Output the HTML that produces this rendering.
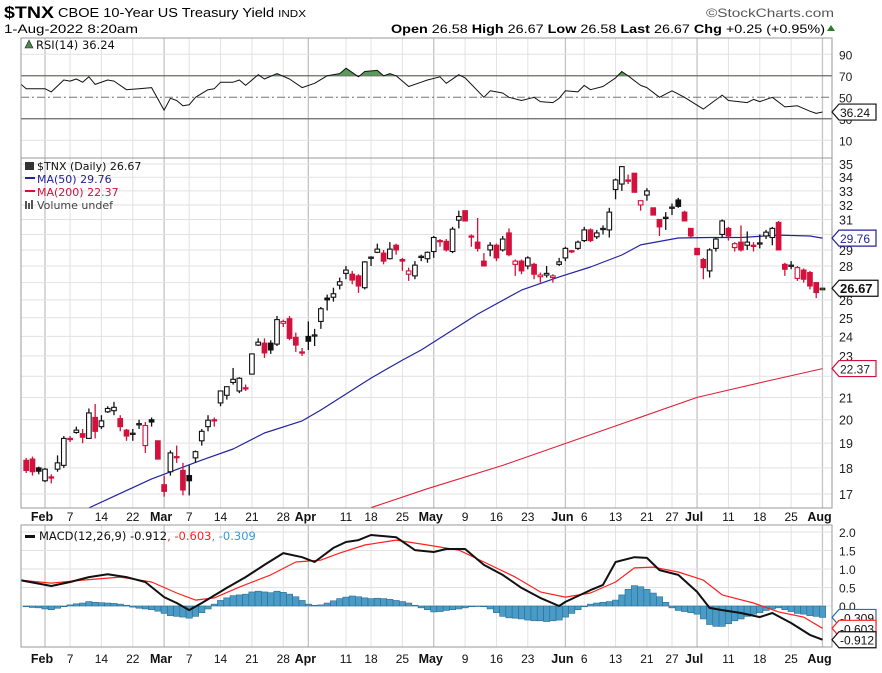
<!DOCTYPE html>
<html><head><meta charset="utf-8">
<style>
html,body{margin:0;padding:0;background:#fff;}
body{width:882px;height:668px;overflow:hidden;font-family:"Liberation Sans",sans-serif;}
svg text{font-family:"Liberation Sans",sans-serif;}
</style></head>
<body>
<svg id="chart" width="882" height="668" viewBox="0 0 882 668" xmlns="http://www.w3.org/2000/svg">
  <g id="header">
    <text x="4" y="18" font-size="17" font-weight="bold" textLength="50" lengthAdjust="spacingAndGlyphs">$TNX</text>
    <text x="58" y="17" font-size="12.5" textLength="248" lengthAdjust="spacingAndGlyphs">CBOE 10-Year US Treasury Yield <tspan font-size="10">INDX</tspan></text>
    <text x="4" y="33" font-size="12" textLength="134" lengthAdjust="spacingAndGlyphs">1-Aug-2022 8:20am</text>
    <text x="834" y="17" font-size="12" fill="#555" text-anchor="end" textLength="128" lengthAdjust="spacingAndGlyphs">©StockCharts.com</text>
    <text x="391" y="33" font-size="12" textLength="434" lengthAdjust="spacingAndGlyphs"><tspan font-weight="bold">Open</tspan> 26.58 <tspan font-weight="bold">High</tspan> 26.67 <tspan font-weight="bold">Low</tspan> 26.58 <tspan font-weight="bold">Last</tspan> 26.67 <tspan font-weight="bold">Chg</tspan> +0.25 (+0.95%)</text>
    <polygon points="827,31 835,31 831,25" fill="#2a7d2a"/>
  </g>
  <g id="rsi"></g>
  <g id="main"></g>
  <g id="xaxis1"></g>
  <g id="macd"></g>
  <g id="xaxis2"></g>
</svg>
<script>
// ---------- DATA ----------
const firstDay = -3; // trading-day index of first candle (0 = 1-Feb-2022)
const opens = [18.30,18.35,18.0,17.5,17.65,17.95,18.1,19.2,19.45,19.4,19.2,20.1,19.7,20.35,20.4,20.05,19.55,19.4,19.8,18.9,20.0,19.1,17.35,17.85,18.45,17.9,17.7,18.4,19.1,19.7,20.0,20.75,21.1,21.7,21.3,21.45,22.1,23.55,23.65,23.65,23.6,24.7,24.95,23.95,23.2,24.0,24.05,24.8,26.1,26.15,26.85,27.55,27.5,27.4,26.7,28.5,28.85,28.8,28.45,29.3,28.4,27.5,27.4,28.55,28.45,28.9,29.6,29.55,28.9,30.95,31.6,29.9,29.5,28.3,29.0,29.3,29.0,30.1,28.1,28.3,28.0,28.1,27.35,27.45,27.3,28.1,28.5,28.95,29.1,29.6,30.3,29.85,30.35,30.3,33.1,33.5,33.8,34.3,32.0,32.7,31.8,31.0,31.1,31.8,32.35,31.5,30.4,29.1,28.4,27.7,29.1,30.0,30.4,29.15,29.5,29.3,29.3,29.4,29.9,29.8,30.8,28.1,28.0,27.25,27.75,27.6,27.0,26.58];
const highs = [18.4,18.45,18.05,18.0,17.75,18.5,19.3,19.3,19.7,19.6,20.5,20.7,20.2,20.6,20.8,20.2,19.6,19.6,20.0,19.9,20.1,19.1,17.7,18.7,18.9,18.2,18.1,18.7,19.6,20.2,20.1,21.3,21.5,22.4,21.95,21.6,23.1,23.9,23.9,23.8,25.1,24.9,25.1,24.2,23.4,24.8,24.4,25.6,26.3,26.7,27.3,28.0,27.7,27.5,28.3,28.6,29.4,29.0,29.5,29.4,28.5,27.9,28.3,28.7,28.9,29.9,29.7,29.7,30.5,31.6,31.6,30.0,31.1,28.8,29.5,29.4,29.9,30.4,28.4,28.4,28.6,28.2,27.6,28.0,27.5,28.5,29.2,29.0,29.6,30.5,30.4,30.3,30.6,31.8,33.9,34.8,34.2,34.3,32.3,33.2,31.8,31.0,31.5,32.1,32.5,31.6,30.4,29.1,28.5,29.1,29.8,31.0,30.5,29.5,30.6,30.2,29.5,30.0,30.3,30.5,30.9,28.2,28.3,28.0,27.85,27.7,27.0,26.67];
const lows = [17.8,17.7,17.75,17.45,17.4,17.85,18.0,19.05,19.4,19.0,19.2,19.2,19.6,20.3,20.2,19.5,19.1,19.1,19.6,18.6,19.7,18.35,16.9,17.7,18.2,16.95,16.95,18.2,18.9,19.5,19.7,20.6,20.9,21.6,21.2,21.3,22.1,23.5,22.9,23.1,23.5,24.5,23.8,23.2,23.0,23.3,23.5,24.4,25.4,25.9,26.6,27.2,26.9,26.4,26.6,28.0,28.8,28.1,28.4,28.7,27.7,27.1,27.2,28.3,28.2,28.5,29.2,28.9,28.8,30.4,30.9,29.2,28.9,28.0,28.6,28.3,28.9,28.6,27.4,27.5,27.8,27.2,27.0,27.3,27.0,28.0,28.3,28.8,29.0,29.5,29.5,29.7,30.0,29.8,32.4,33.0,33.5,32.9,31.6,32.3,31.3,29.9,30.3,31.3,31.8,30.9,29.8,28.7,27.2,27.3,28.9,29.8,29.6,28.9,28.9,29.0,28.9,29.1,29.7,29.3,29.0,27.4,27.8,27.1,27.0,26.6,26.1,26.58];
const closes = [17.90,17.85,17.87,17.95,17.62,18.2,19.2,19.15,19.55,19.25,20.3,19.5,19.95,20.5,20.55,19.7,19.3,19.42,19.83,19.75,19.9,18.35,17.1,18.6,18.42,17.15,17.5,18.65,19.5,19.98,19.95,21.3,21.5,21.85,21.9,21.4,23.1,23.7,23.15,23.3,24.9,24.8,23.9,23.55,23.18,23.75,24.08,25.5,26.0,26.35,27.05,27.75,27.15,26.8,28.25,28.55,29.05,28.3,29.05,29.0,28.3,27.7,28.05,28.6,28.85,29.8,29.55,29.0,30.35,31.2,30.9,29.85,29.1,28.0,29.3,28.5,29.7,28.7,28.3,27.7,28.5,27.5,27.45,27.55,27.4,28.25,29.1,28.9,29.5,30.3,29.6,30.1,30.4,31.5,33.8,34.8,33.7,32.9,32.3,33.0,31.3,30.5,31.15,31.85,31.9,30.9,29.9,28.7,27.9,29.0,29.7,30.9,29.9,29.4,29.0,29.5,29.28,29.45,30.15,30.4,29.0,27.8,28.05,27.9,27.2,26.8,26.42,26.67];
const ma50Days = [7,17,25,30,35,41,44,52,57,60,69,76,82,87,92,95,101,106,111,117,122,124];
const ma50Vals = [16.49,17.57,18.31,18.76,19.43,19.95,20.43,21.91,22.79,23.3,25.2,26.56,27.34,27.94,28.68,29.32,29.77,29.8,29.8,29.96,29.9,29.76];
const ma200Days = [52,61,73,88,104,115,124];
const ma200Vals = [16.5,17.2,18.1,19.45,21.0,21.75,22.37];
const rsiDays = [-4,-3,0,1,3,4,5,6,7,8,10,11,13,15,17,19,20,21,22,23,24,26,27,28,30,31,32,34,35,37,39,41,43,45,47,48,50,51,53,54,55,56,58,60,61,63,64,66,67,70,71,73,74,76,78,79,81,82,83,85,86,87,89,91,92,93,95,96,98,100,102,105,108,109,112,113,114,116,118,120,122,123,124];
const rsiVals = [63,58,58,55,66,65,67,64,69,62,66,65,57,58,59,38,49,47,42,43,50,57,58,64,64,66,61,71,67,72,67,59,63,70,72,77,69,74,75,70,72,70,60,64,66,69,63,71,68,50,56,54,50,47,50,46,45,49,56,55,61,57,60,68,74,70,61,59,50,56,50,39,52,47,45,48,46,50,41,42,37,35,36.24];
const macdDays = [-4,1,4,7,10,13,16,19,21,23,25,29,32,35,38,41,43,46,48,50,52,56,59,62,64,67,70,73,76,79,82,83,87,89,91,94,96,98,101,104,106,108,111,114,116,119,122,124];
const macdVals = [0.70,0.54,0.65,0.78,0.86,0.78,0.65,0.24,0.08,-0.11,0.08,0.49,0.78,1.11,1.43,1.32,1.19,1.57,1.73,1.78,1.92,1.86,1.51,1.46,1.54,1.54,1.11,0.84,0.49,0.22,0.0,0.11,0.43,0.57,1.19,1.32,1.30,0.97,0.84,0.38,-0.05,-0.11,-0.19,-0.30,-0.19,-0.46,-0.78,-0.912];
const signalDays = [-4,1,6,12,17,21,24,27,31,36,40,44,47,51,56,61,66,70,75,79,83,87,91,94,97,101,105,108,113,117,121,124];
const signalVals = [0.70,0.62,0.70,0.78,0.65,0.35,0.16,0.22,0.51,0.84,1.19,1.24,1.43,1.65,1.78,1.65,1.51,1.19,0.78,0.38,0.24,0.35,0.65,1.03,1.05,0.92,0.70,0.30,0.08,-0.16,-0.30,-0.603];
const histVals = [-0.02,-0.04,-0.05,-0.08,-0.10,-0.06,-0.02,0.03,0.06,0.08,0.12,0.10,0.09,0.08,0.07,0.05,0.02,-0.03,-0.06,-0.08,-0.10,-0.14,-0.20,-0.26,-0.28,-0.30,-0.33,-0.28,-0.18,-0.08,0.05,0.15,0.22,0.28,0.30,0.32,0.38,0.40,0.38,0.36,0.40,0.37,0.32,0.25,0.15,0.05,0.02,0.03,0.08,0.14,0.20,0.24,0.27,0.25,0.22,0.20,0.21,0.20,0.18,0.15,0.12,0.08,0.02,-0.05,-0.10,-0.16,-0.15,-0.12,-0.10,-0.08,-0.05,-0.02,0.00,-0.02,-0.08,-0.18,-0.28,-0.32,-0.33,-0.35,-0.38,-0.40,-0.40,-0.42,-0.40,-0.38,-0.30,-0.20,-0.10,-0.02,0.05,0.08,0.10,0.12,0.16,0.30,0.45,0.55,0.52,0.45,0.35,0.25,0.10,-0.05,-0.12,-0.15,-0.18,-0.22,-0.35,-0.50,-0.55,-0.55,-0.48,-0.40,-0.35,-0.28,-0.22,-0.18,-0.12,-0.08,-0.05,-0.10,-0.15,-0.20,-0.22,-0.26,-0.28,-0.309];
const priceTicks = [17,18,19,20,21,22,23,24,25,26,27,28,29,30,31,32,33,34,35];
const priceTickLabels = ["17","18","19","20","21","","23","24","25","26","","28","29","","31","32","33","34","35"];
const rsiTicks = [10,30,50,70,90];
const macdTicks = [0,0.5,1,1.5,2];
const macdTickLabels = ["0.0","0.5","1.0","1.5","2.0"];
const monthDays = [0,19,42,62,83,104,124];
const monthLabels = ["Feb","Mar","Apr","May","Jun","Jul","Aug"];
const weekDays = [4,9,14,23,28,33,38,48,52,57,67,72,77,86,91,96,100,109,114,119];
const weekLabels = ["7","14","22","7","14","21","28","11","18","25","9","16","23","6","13","21","27","11","18","25"];

// ---------- GEOMETRY ----------
const L = 21, R = 832;
const xD = d => 45 + d * 6.27;
const yP = v => 164 + 457 * Math.log(35 / v);
const yR = v => 151 - 1.075 * v;
const yM = v => 606 - 37 * v;
const NS = 'http://www.w3.org/2000/svg';
function mk(tag, attrs, parent) {
  const e = document.createElementNS(NS, tag);
  for (const k in attrs) e.setAttribute(k, attrs[k]);
  parent.appendChild(e);
  return e;
}
const svg = document.getElementById('chart');
const defs = mk('defs', {}, svg);
function clip(id, y0, y1) {
  const c = mk('clipPath', {id: id}, defs);
  mk('rect', {x: L, y: y0, width: R - L, height: y1 - y0}, c);
}
clip('cr', 38, 158); clip('cm', 158, 508); clip('cd', 525, 647);

function vgrid(g, y0, y1) {
  weekDays.forEach(d => {
    const ln = mk('line', {x1: xD(d), x2: xD(d), y1: y0, y2: y1, stroke: '#e2e2e2', 'stroke-width': 1}, g);
    
    
  });
  monthDays.forEach(d => {
    const ln = mk('line', {x1: xD(d), x2: xD(d), y1: y0, y2: y1, stroke: '#c4c4c4', 'stroke-width': 1.3}, g);
    
    
  });
}
function frame(g, y0, y1, name) {
  const r = mk('rect', {x: L, y: y0, width: R - L, height: y1 - y0, fill: 'none', stroke: '#999', 'stroke-width': 1}, g);
  
  
}
function tag(g, x, y, txt, stroke, color, bold, name) {
  const w = bold ? 46 : 44;
  const p = mk('path', {d: `M${x},${y} L${x+7},${y-8} L${x+w},${y-8} L${x+w},${y+8} L${x+7},${y+8} Z`, fill: '#fff', stroke: stroke, 'stroke-width': 1.2}, g);
  
  
  const t = mk('text', {x: x + 8, y: y + 5, 'font-size': bold ? 13 : 12, 'font-weight': bold ? 'bold' : 'normal', fill: color}, g);
  
  
  t.textContent = txt;
}
function polyline(g, days, vals, yf, color, w, clipId, name) {
  const pts = days.map((d, k) => xD(d).toFixed(1) + ',' + yf(vals[k]).toFixed(1)).join(' ');
  const pl = mk('polyline', {points: pts, fill: 'none', stroke: color, 'stroke-width': w, 'clip-path': `url(#${clipId})`, 'stroke-linejoin': 'round'}, g);
  
  
  return pl;
}

// ---------- RSI ----------
const gR = document.getElementById('rsi');
vgrid(gR, 38, 158);
rsiTicks.forEach(v => {
  const ln = mk('line', {x1: L, x2: R, y1: yR(v), y2: yR(v), stroke: (v === 30 || v === 70) ? '#666' : (v === 50 ? '#777' : '#e2e2e2'), 'stroke-width': (v === 30 || v === 70) ? 1.3 : 1, 'stroke-dasharray': v === 50 ? '8,3,2,3' : 'none'}, gR);
  
  
  const t = mk('text', {x: 839, y: yR(v) + 5, 'font-size': 12, fill: '#222'}, gR);
  
  
  t.textContent = String(v);
});
// overbought fill
const clipOB = mk('clipPath', {id: 'cob'}, defs);
mk('rect', {x: L, y: 38, width: R - L, height: yR(70) - 38}, clipOB);
const areaPts = rsiDays.map((d, k) => xD(d).toFixed(1) + ',' + yR(rsiVals[k]).toFixed(1)).join(' ');
const ob = mk('polygon', {points: `${xD(rsiDays[0])},${yR(70)} ${areaPts} ${xD(rsiDays[rsiDays.length-1])},${yR(70)}`, fill: '#5c9a5c', 'clip-path': 'url(#cob)'}, gR);


polyline(gR, rsiDays, rsiVals, yR, '#111', 1, 'cr', 'rsi-line');
frame(gR, 38, 158, 'rsi-frame');
const rl = mk('text', {x: 36, y: 49, 'font-size': 11.5, fill: '#111', style: 'font-family:"DejaVu Sans",sans-serif'}, gR);


rl.textContent = 'RSI(14) 36.24';
const ri = mk('polygon', {points: '25,48 29,40 33,48', fill: '#4a8a4a', stroke: '#222', 'stroke-width': 0.6}, gR);


tag(gR, 832, yR(36.24), '36.24', '#111', '#111', false, 'rsi-value');

// ---------- MAIN ----------
const gM = document.getElementById('main');
vgrid(gM, 158, 508);
priceTicks.forEach((v, k) => {
  const ln = mk('line', {x1: L, x2: R, y1: yP(v), y2: yP(v), stroke: '#e2e2e2', 'stroke-width': 1}, gM);
  
  
  if (priceTickLabels[k]) {
    const t = mk('text', {x: 839, y: yP(v) + 5, 'font-size': 12.5, fill: '#222'}, gM);
    
    
    t.textContent = priceTickLabels[k];
  }
});
polyline(gM, ma200Days, ma200Vals, yP, '#e0203a', 1.1, 'cm', 'ma200-line');
polyline(gM, ma50Days, ma50Vals, yP, '#2424a0', 1.2, 'cm', 'ma50-line');
const gC = mk('g', {'clip-path': 'url(#cm)'}, gM);


for (let k = 0; k < closes.length; k++) {
  const d = firstDay + k, x = xD(d);
  const o = opens[k], c = closes[k], h = highs[k], l = lows[k];
  const prev = k > 0 ? closes[k - 1] : o;
  const col = c >= prev ? '#111' : '#d4103c';
  const hollow = c > o;
  const last = k === closes.length - 1;
  const g = mk('g', {}, gC);
  
  
  mk('line', {x1: x, x2: x, y1: yP(h), y2: yP(l), stroke: col, 'stroke-width': 1.3}, g);
  const top = yP(Math.max(o, c)), bot = yP(Math.min(o, c));
  const hgt = Math.max(bot - top, 1.2);
  mk('rect', {x: x - 2.3, y: top, width: 4.6, height: hgt, fill: last ? '#ffff55' : (hollow ? '#fff' : col), stroke: col, 'stroke-width': 1.1}, g);
}
frame(gM, 158, 508, 'price-frame');
const legM = [
  {t: '$TNX (Daily) 26.67', c: '#111', y: 170, n: 'price-legend'},
  {t: 'MA(50) 29.76', c: '#22229a', y: 183, n: 'ma50-legend'},
  {t: 'MA(200) 22.37', c: '#d4103c', y: 196, n: 'ma200-legend'},
  {t: 'Volume undef', c: '#444', y: 209, n: 'volume-legend'}
];
legM.forEach(e => {
  const t = mk('text', {x: 37, y: e.y, 'font-size': 11, fill: e.c, style: 'font-family:"DejaVu Sans",sans-serif'}, gM);
  
  
  t.textContent = e.t;
});
mk('rect', {x: 25, y: 177, width: 10, height: 2, fill: '#22229a'}, gM);
mk('rect', {x: 25, y: 190, width: 10, height: 2, fill: '#d4103c'}, gM);
mk('rect', {x: 25, y: 201, width: 2, height: 8, fill: '#555'}, gM);
mk('rect', {x: 28, y: 203, width: 2, height: 6, fill: '#555'}, gM);
mk('rect', {x: 31, y: 200, width: 2, height: 9, fill: '#555'}, gM);
mk('rect', {x: 25, y: 162, width: 9, height: 8, fill: '#333'}, gM);
tag(gM, 832, yP(29.76), '29.76', '#22229a', '#22229a', false, 'ma50-value');
tag(gM, 832, yP(26.67), '26.67', '#111', '#111', true, 'last-price');
tag(gM, 832, yP(22.37), '22.37', '#d4103c', '#222', false, 'ma200-value');

// ---------- X AXES ----------
function xaxis(g, y) {
  monthDays.forEach((d, k) => {
    const t = mk('text', {x: xD(d) - 3, y: y, 'font-size': 12.5, 'font-weight': 'bold', 'text-anchor': 'middle', fill: '#111'}, g);
    
    
    t.textContent = monthLabels[k];
  });
  weekDays.forEach((d, k) => {
    const t = mk('text', {x: xD(d), y: y, 'font-size': 12, 'text-anchor': 'middle', fill: '#111'}, g);
    
    
    t.textContent = weekLabels[k];
  });
}
xaxis(document.getElementById('xaxis1'), 521);
xaxis(document.getElementById('xaxis2'), 663);

// ---------- MACD ----------
const gD = document.getElementById('macd');
vgrid(gD, 525, 647);
macdTicks.forEach((v, k) => {
  const ln = mk('line', {x1: L, x2: R, y1: yM(v), y2: yM(v), stroke: '#e2e2e2', 'stroke-width': 1}, gD);
  
  
  const t = mk('text', {x: 839, y: yM(v) + 5, 'font-size': 12, fill: '#222'}, gD);
  
  
  t.textContent = macdTickLabels[k];
});
const gH = mk('g', {'clip-path': 'url(#cd)'}, gD);


histVals.forEach((v, k) => {
  const d = firstDay + k, x = xD(d);
  const y0 = yM(0), y1 = yM(v);
  const b = mk('rect', {x: x - 3.1, y: Math.min(y0, y1), width: 6.27, height: Math.max(Math.abs(y1 - y0), 0.5), fill: '#4a9cc6', stroke: '#2a6c94', 'stroke-width': 0.6}, gH);
  
  
});
polyline(gD, signalDays, signalVals, yM, '#ff2020', 1.2, 'cd', 'macd-signal-line');
polyline(gD, macdDays, macdVals, yM, '#111', 2, 'cd', 'macd-line');
frame(gD, 525, 647, 'macd-frame');
const ml = mk('text', {x: 39, y: 540, 'font-size': 11.5, style: 'font-family:"DejaVu Sans",sans-serif', fill: '#111'}, gD);


ml.innerHTML = 'MACD(12,26,9) -0.912<tspan fill="#ff2020">, -0.603</tspan><tspan fill="#3a9ad0">, -0.309</tspan>';
mk('rect', {x: 25, y: 535, width: 10, height: 3, fill: '#111'}, gD);
tag(gD, 832, yM(-0.309), '-0.309', '#2a6cc4', '#111', false, 'histogram-value');
tag(gD, 832, yM(-0.603), '-0.603', '#ff2020', '#111', false, 'signal-value');
tag(gD, 832, yM(-0.912), '-0.912', '#111', '#111', false, 'macd-value');
</script>
</body></html>
